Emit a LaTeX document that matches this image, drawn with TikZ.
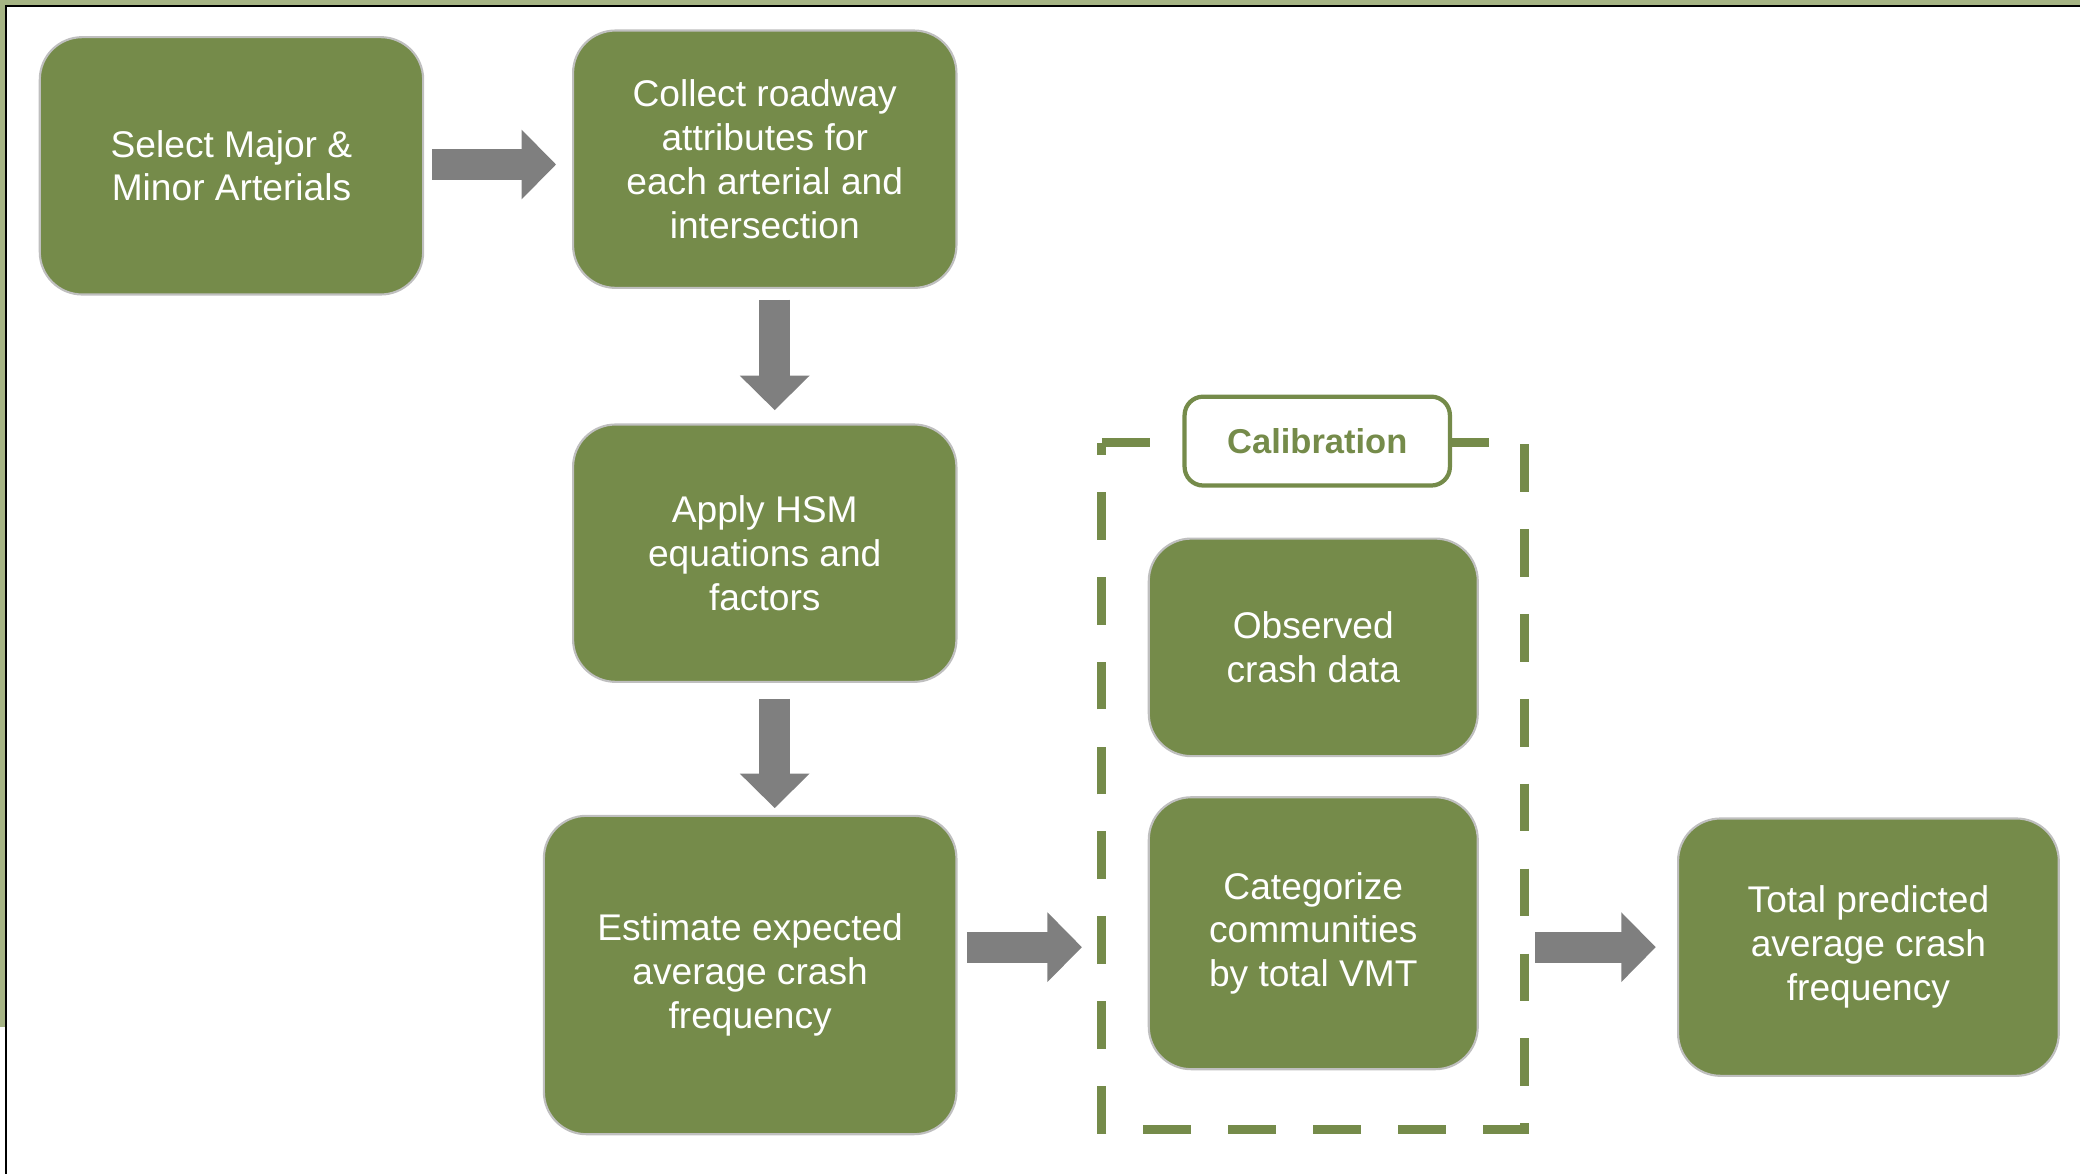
\documentclass[tikz,border=0pt]{standalone}
\usepackage{fontspec}
\setmainfont{Liberation Sans}
\usetikzlibrary{arrows.meta}
\definecolor{boxgreen}{RGB}{117,139,74}
\definecolor{framegreen}{RGB}{166,180,132}
\definecolor{arrowgray}{RGB}{127,127,127}
\begin{document}
\begin{tikzpicture}[x=0.5pt,y=-0.5pt,
  stepbox/.style={rectangle, rounded corners=16pt, fill=boxgreen, draw=black!25, line width=0.8pt,
    text=white, align=center, inner sep=0pt,
    font=\fontsize{14pt}{16.5pt}\selectfont},
  blockarrow/.style={draw=arrowgray, line width=11.8pt,
    -{Triangle[width=25.5pt,length=13pt,fill=arrowgray]}},
  callabel/.style={rectangle, rounded corners=7pt, fill=white, draw=boxgreen, line width=1.6pt,
    text=boxgreen, inner sep=0pt, minimum width=100pt, minimum height=33.5pt,
    font=\fontsize{13pt}{15pt}\selectfont\bfseries}]
\useasboundingbox (0,0) rectangle (1568,885);
% frame
\fill[framegreen] (0,0) rectangle (1568,3.6);
\fill[framegreen] (0,0) rectangle (3.6,774);
\draw[black, line width=0.6pt] (4.4,885) -- (4.4,4.4) -- (1568,4.4);
% boxes
\node[stepbox, minimum width=144.5pt, minimum height=97pt] (b1) at (174.5,125) {Select Major \&\\Minor Arterials};
\node[stepbox, minimum width=144.5pt, minimum height=97pt] (b2) at (576.5,120) {Collect roadway\\attributes for\\each arterial and\\intersection};
\node[stepbox, minimum width=144.5pt, minimum height=97pt] (b3) at (576.5,417) {Apply HSM\\equations and\\factors};
\node[stepbox, minimum width=155.5pt, minimum height=120pt] (b4) at (565.5,735) {Estimate expected\\average crash\\frequency};
\node[stepbox, minimum width=124pt, minimum height=82pt] (b5) at (990,488) {Observed\\crash data};
\node[stepbox, minimum width=124pt, minimum height=102.5pt] (b6) at (990,703.5) {Categorize\\communities\\by total VMT};
\node[stepbox, minimum width=143.5pt, minimum height=97pt] (b7) at (1408.5,714) {Total predicted\\average crash\\frequency};
% calibration group
\node[rectangle, inner sep=0pt, minimum width=159pt, minimum height=258.5pt] (grp) at (990,592.5) {};
\draw[boxgreen, line width=3.5pt, dash pattern=on 18pt off 14pt]
  (grp.north west) -- (grp.north east) -- (grp.south east) -- (grp.south west) -- cycle;
\node[callabel] (cal) at (993,332.5) {Calibration};
% arrows
\draw[blockarrow, shorten <=3pt, shorten >=6pt] (b1.east |- 0,124) -- (b2.west |- 0,124);
\draw[blockarrow, shorten <=4pt, shorten >=5pt] ([xshift=3.75pt]b2.south) -- ([xshift=3.75pt]b3.north);
\draw[blockarrow, shorten <=6pt, shorten >=2.5pt] ([xshift=3.75pt]b3.south) -- ([xshift=3.75pt]b3.south |- b4.north);
\draw[blockarrow, shorten <=3.5pt, shorten >=7.5pt] (b4.east |- b7.west) -- (grp.west |- b7.west);
\draw[blockarrow, shorten <=4pt, shorten >=8pt] (grp.east |- b7.west) -- (b7.west);
\end{tikzpicture}
\end{document}
